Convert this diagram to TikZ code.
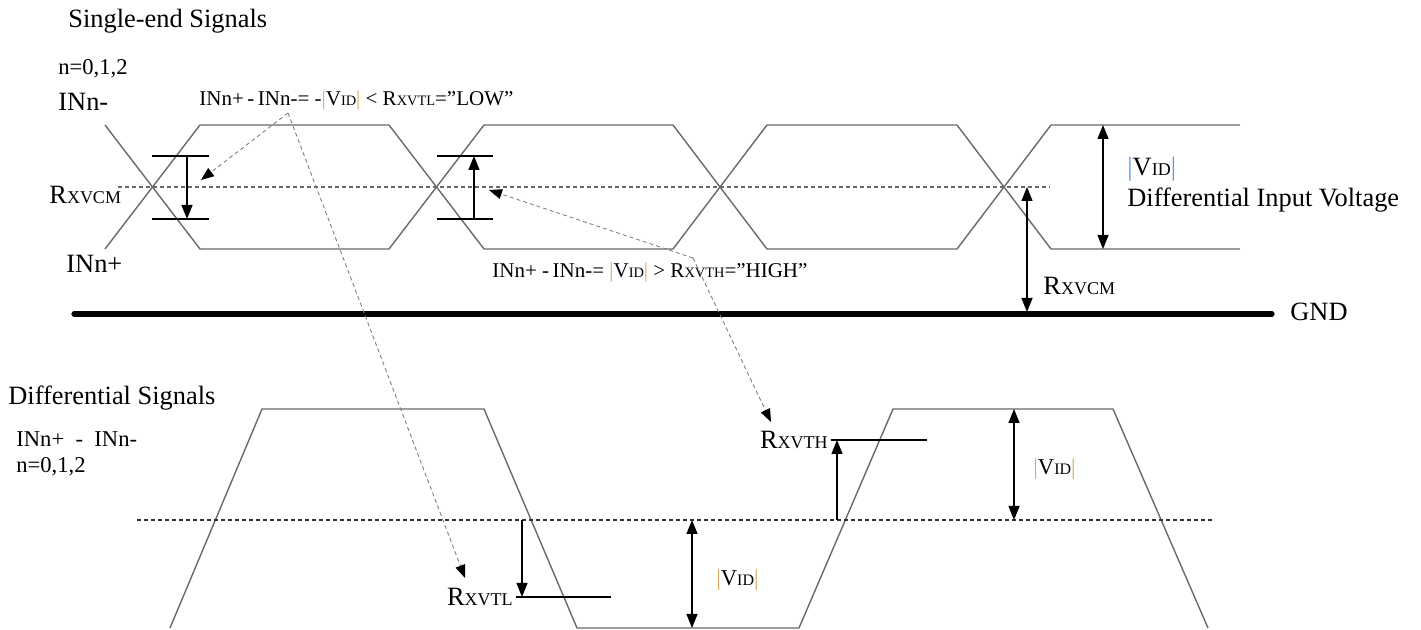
\documentclass[tikz,border=0pt]{standalone}
\usepackage{fontspec}
\setmainfont{Liberation Serif}
\usetikzlibrary{arrows.meta,positioning}

\definecolor{siggray}{RGB}{105,105,105}
\definecolor{vbarA}{RGB}{95,155,215}
\definecolor{vbarB}{RGB}{215,170,95}
\newcommand{\smallidx}[2][9]{{\fontsize{#1}{#1}\selectfont #2}}
\newcommand{\vbA}{\textcolor{vbarA}{|}}
\newcommand{\vbB}{\textcolor{vbarB}{|}}
\newcommand{\qq}{\symbol{34}}

\begin{document}
\begin{tikzpicture}[x=0.5pt,y=-0.5pt,
   lbl/.style={font=\fontsize{13.2}{15}\selectfont,inner sep=0pt},
   note/.style={font=\fontsize{10.5}{12}\selectfont,inner sep=0pt},
   small/.style={font=\fontsize{11.3}{13}\selectfont,inner sep=0pt},
   sig/.style={draw=siggray,line width=0.7pt,line join=round},
   tickline/.style={draw=black,line width=0.6pt},
   midline/.style={draw=siggray,line width=0.6pt,dash pattern=on 2pt off 1.5pt},
   dimarr/.style={line width=0.6pt,-{Triangle[length=7pt,width=5.5pt]}},
   dimboth/.style={line width=0.6pt,{Triangle[length=7pt,width=5.5pt]}-{Triangle[length=7pt,width=5.5pt]}},
   callout/.style={draw=gray,line width=0.45pt,dash pattern=on 2pt off 1.5pt,-{Triangle[length=6.5pt,width=5pt,color=black]}}]
   \useasboundingbox (0,0) rectangle (1421,630);

   % single-ended part
   \node[lbl,anchor=base west] (title) at (68,28) {Single-end Signals};
   \node[small,anchor=base west] (nset) at (58,75) {n=0,1,2};
   \node[lbl,anchor=base west] (inminus) at (58,111) {INn-};
   \node[lbl,anchor=base west] (rxvcmL) at (49,204) {R\smallidx{XVCM}};
   \node[lbl,anchor=base west] (inplus) at (66,273) {INn+};
   \node[note,anchor=base west] (lowtxt) at (199,106) {INn+\,-\,INn-= -\vbB V\smallidx[7.2]{ID}\vbB{} < R\smallidx[7.2]{XVTL}=\qq LOW\qq};
   \node[note,anchor=base west] (hightxt) at (492,278) {INn+ -\,INn-= \vbB V\smallidx[7.2]{ID}\vbB{} > R\smallidx[7.2]{XVTH}=\qq HIGH\qq};

   \draw[sig] (105,125) -- (200,249) -- (389,249) -- (484,125) -- (673,125) -- (767,249) -- (957,249) -- (1051,125) -- (1240,125);
   \draw[sig] (105,249) -- (200,125) -- (389,125) -- (484,249) -- (673,249) -- (767,125) -- (957,125) -- (1051,249) -- (1240,249);
   \draw[midline] (118,187) -- (1050,187);

   \coordinate (lowa) at (187,156);
   \coordinate (lowb) at (187,219);
   \draw[tickline] (152,156) -- (209,156) (152,219) -- (209,219);
   \draw[dimarr] (lowa) -- (lowb);
   \coordinate (higha) at (474,219);
   \coordinate (highb) at (474,156);
   \draw[tickline] (437,156) -- (493,156) (437,219) -- (493,219);
   \draw[dimarr] (higha) -- (highb);

   \coordinate (vtop) at (1103,125);
   \coordinate (vbot) at (1103,249);
   \draw[dimboth] (vtop) -- (vbot);
   \node[lbl,anchor=base west] (vidtxt) at (1127,176) {\vbA V\smallidx{ID}\vbA};
   \node[lbl,anchor=base west] (diffvolt) at (1127,207) {Differential Input Voltage};
   \coordinate (cmtop) at (1027,187);
   \coordinate (cmbot) at (1027,312);
   \draw[dimboth] (cmtop) -- (cmbot);
   \node[lbl,anchor=base west] (rxvcmR) at (1043,295) {R\smallidx{XVCM}};

   \coordinate (gndL) at (74,314);
   \coordinate (gndR) at (1272,314);
   \draw[line width=2.6pt,line cap=round] (gndL) -- (gndR);
   \node[lbl,anchor=base west] (gnd) at (1290,321) {GND};

   % differential part
   \node[lbl,anchor=base west] (difftitle) at (8,405) {Differential Signals};
   \node[small,anchor=base west] (diffsub) at (16,447) {INn+\ \ -\ \ INn-};
   \node[small,anchor=base west] (diffn) at (16,473) {n=0,1,2};

   \draw[sig] (170,628) -- (262,409) -- (484,409) -- (577,628) -- (799,628) -- (893,409) -- (1113,409) -- (1208,628);
   \draw[midline,draw=black!80] (137,520) -- (1213,520);

   \coordinate (tla) at (522,520);
   \coordinate (tlb) at (522,597);
   \coordinate (tlL) at (516,597);
   \coordinate (tlR) at (611,597);
   \draw[dimarr] (tla) -- (tlb);
   \draw[tickline] (tlL) -- (tlR);
   \node[lbl,left=1.5pt of tlL] (rxvtl) {R\smallidx{XVTL}};

   \coordinate (tha) at (837,520);
   \coordinate (thb) at (837,440);
   \coordinate (thL) at (831,440);
   \coordinate (thR) at (927,440);
   \draw[dimarr] (tha) -- (thb);
   \draw[tickline] (thL) -- (thR);
   \node[lbl,left=1.5pt of thL] (rxvth) {R\smallidx{XVTH}};

   \coordinate (vla) at (692,520);
   \coordinate (vlb) at (692,628);
   \draw[dimboth] (vla) -- (vlb);
   \node[small,anchor=base west] (vidlow) at (716,586) {\vbB V\smallidx[8]{ID}\vbB};
   \coordinate (vha) at (1014,409);
   \coordinate (vhb) at (1014,520);
   \draw[dimboth] (vha) -- (vhb);
   \node[small,anchor=base west] (vidhigh) at (1033,475) {\vbB V\smallidx[8]{ID}\vbB};

   % dashed pointers
   \coordinate (lowsrc) at (288,113);
   \coordinate (lowtipA) at (201,180);
   \coordinate (lowtipB) at (465,578);
   \draw[callout] (lowsrc) -- (lowtipA);
   \draw[callout] (lowsrc) -- (lowtipB);
   \coordinate (highsrc) at (693,258);
   \coordinate (hightipA) at (489,190);
   \coordinate (hightipB) at (771,422);
   \draw[callout] (highsrc) -- (hightipA);
   \draw[callout] (highsrc) -- (hightipB);
\end{tikzpicture}
\end{document}
